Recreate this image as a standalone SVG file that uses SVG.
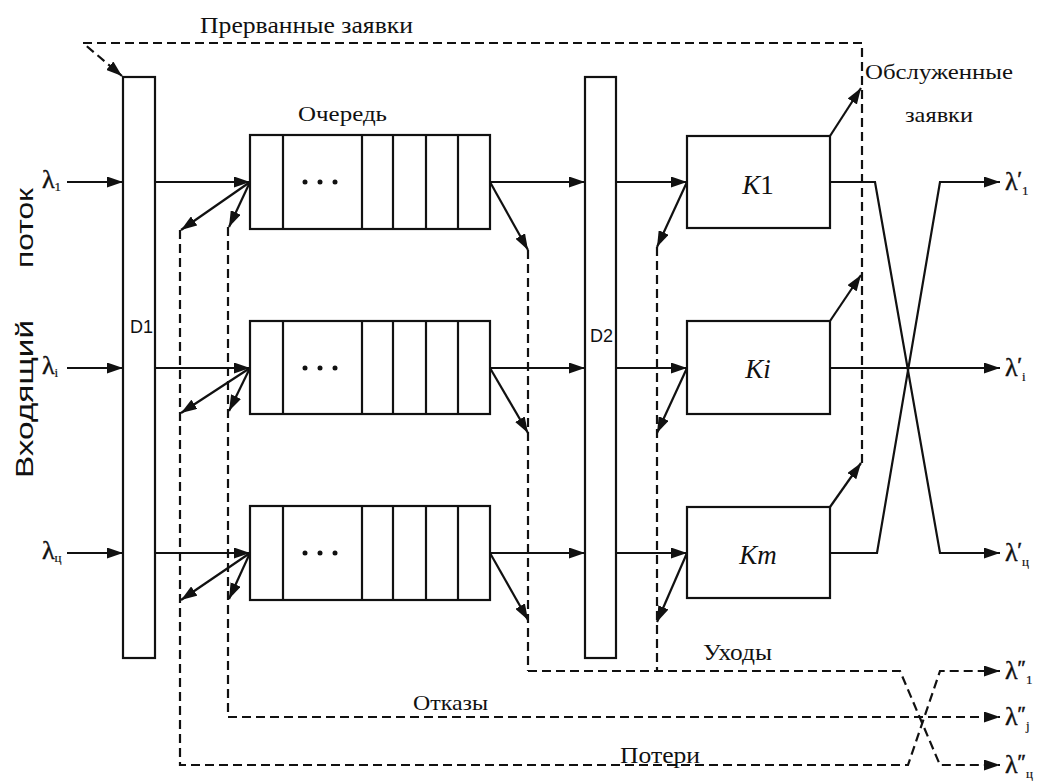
<svg xmlns="http://www.w3.org/2000/svg" width="1043" height="783" viewBox="0 0 1043 783">
<style>
.box{fill:#fff;stroke:#111;stroke-width:2.2}
.div{stroke:#111;stroke-width:2.2}
.ar{fill:none;stroke:#111;stroke-width:2.2;marker-end:url(#ah)}
.dl{fill:none;stroke:#111;stroke-width:2.2;stroke-dasharray:9 5}
.da{fill:none;stroke:#111;stroke-width:2.2;stroke-dasharray:9 5;marker-end:url(#ah)}
.serif{font-family:"Liberation Serif","Times New Roman",serif;fill:#111}
.sans{font-family:"Liberation Sans",Arial,sans-serif;fill:#111}
.lam{font-family:"Liberation Serif","Times New Roman",serif;font-size:26px;fill:#111;stroke:#111;stroke-width:0.4}
.sup{font-size:20px;stroke-width:0.6}
.sub{font-size:13px;stroke-width:0.2}
.k{font-family:"Liberation Serif","Times New Roman",serif;font-size:27px;font-style:italic;fill:#111;text-anchor:middle}
</style>
<defs>
<marker id="ah" markerUnits="userSpaceOnUse" markerWidth="16" markerHeight="11" refX="16" refY="5.5" orient="auto">
<path d="M0,0 L16,5.5 L0,11 z" fill="#111"/>
</marker>
</defs>
<rect width="1043" height="783" fill="#fff"/>

<g id="labels">
<text class="serif" x="200" y="33" font-size="23" textLength="213" lengthAdjust="spacingAndGlyphs">Прерванные  заявки</text>
<text class="serif" x="298" y="121" font-size="21" textLength="89" lengthAdjust="spacingAndGlyphs">Очередь</text>
<text class="serif" x="865" y="79" font-size="22" textLength="148" lengthAdjust="spacingAndGlyphs">Обслуженные</text>
<text class="serif" x="905" y="122" font-size="22" textLength="68" lengthAdjust="spacingAndGlyphs">заявки</text>
<text class="serif" x="703" y="660" font-size="23" textLength="69" lengthAdjust="spacingAndGlyphs">Уходы</text>
<text class="serif" x="413" y="710" font-size="22" textLength="75" lengthAdjust="spacingAndGlyphs">Отказы</text>
<text class="serif" x="620" y="763" font-size="23" textLength="80" lengthAdjust="spacingAndGlyphs">Потери</text>
<text class="sans" font-size="23" transform="translate(33,478) rotate(-90)" textLength="158" lengthAdjust="spacingAndGlyphs">Входящий</text>
<text class="sans" font-size="23" transform="translate(33,268) rotate(-90)" textLength="80" lengthAdjust="spacingAndGlyphs">поток</text>
<text class="lam" x="42" y="188">λ<tspan class="sub" dy="3">1</tspan></text>
<text class="lam" x="42" y="374">λ<tspan class="sub" dy="3">i</tspan></text>
<text class="lam" x="42" y="559">λ<tspan class="sub" dy="3">ц</tspan></text>
<text class="lam" x="1005" y="190">λ<tspan class="sup" dy="-4">′</tspan><tspan class="sub" dy="9">1</tspan></text>
<text class="lam" x="1005" y="376">λ<tspan class="sup" dy="-4">′</tspan><tspan class="sub" dy="9">i</tspan></text>
<text class="lam" x="1005" y="561">λ<tspan class="sup" dy="-4">′</tspan><tspan class="sub" dy="9">ц</tspan></text>
<text class="lam" x="1005" y="679">λ<tspan class="sup" dy="-4">″</tspan><tspan class="sub" dy="9">1</tspan></text>
<text class="lam" x="1005" y="725">λ<tspan class="sup" dy="-4">″</tspan><tspan class="sub" dy="9">j</tspan></text>
<text class="lam" x="1005" y="773">λ<tspan class="sup" dy="-4">″</tspan><tspan class="sub" dy="9">ц</tspan></text>
</g>

<g id="connectors">
<line class="ar" x1="67" y1="182" x2="123" y2="182"/>
<line class="ar" x1="67" y1="368" x2="123" y2="368"/>
<line class="ar" x1="67" y1="553" x2="123" y2="553"/>
<line class="ar" x1="155" y1="182" x2="250" y2="182"/>
<line class="ar" x1="155" y1="368" x2="250" y2="368"/>
<line class="ar" x1="155" y1="553" x2="250" y2="553"/>
<line class="ar" x1="250" y1="182" x2="181" y2="230"/>
<line class="ar" x1="250" y1="182" x2="229" y2="227"/>
<line class="ar" x1="250" y1="368" x2="181" y2="413"/>
<line class="ar" x1="250" y1="368" x2="229" y2="411"/>
<line class="ar" x1="250" y1="553" x2="181" y2="600"/>
<line class="ar" x1="250" y1="553" x2="229" y2="599"/>
<line class="ar" x1="490" y1="182" x2="585" y2="182"/>
<line class="ar" x1="490" y1="368" x2="585" y2="368"/>
<line class="ar" x1="490" y1="553" x2="585" y2="553"/>
<line class="ar" x1="490" y1="182" x2="528" y2="250"/>
<line class="ar" x1="490" y1="368" x2="528" y2="433"/>
<line class="ar" x1="490" y1="553" x2="528" y2="620"/>
<line class="ar" x1="616" y1="182" x2="687" y2="182"/>
<line class="ar" x1="616" y1="368" x2="687" y2="368"/>
<line class="ar" x1="616" y1="553" x2="687" y2="553"/>
<line class="ar" x1="687" y1="182" x2="657" y2="247"/>
<line class="ar" x1="687" y1="368" x2="657" y2="433"/>
<line class="ar" x1="687" y1="553" x2="657" y2="622"/>
<line class="ar" x1="830" y1="136" x2="861" y2="88"/>
<line class="ar" x1="830" y1="321" x2="861" y2="275"/>
<line class="ar" x1="830" y1="507" x2="861" y2="463"/>
<polyline class="ar" points="830,182 875,182 940,553 1000,553"/>
<polyline class="ar" points="830,553 877,553 940,182 1000,182"/>
<line class="ar" x1="830" y1="368" x2="1000" y2="368"/>
<path class="da" d="M862,463 V43 H83 L122,76"/>
<path class="da" d="M180,230 V765 H908 L940,671 H1000"/>
<path class="da" d="M228,227 V717 H1000"/>
<path class="dl" d="M528,250 V671"/>
<path class="dl" d="M657,247 V671"/>
<path class="da" d="M528,671 H900 L940,765 H1000"/>
</g>

<g id="D1">
<rect class="box" x="123" y="77" width="32" height="581"/>
<text class="sans" x="130" y="333" font-size="18">D1</text>
</g>
<g id="D2">
<rect class="box" x="585" y="77" width="31" height="581"/>
<text class="sans" x="590" y="342" font-size="18">D2</text>
</g>

<g id="queue1">
<rect class="box" x="250" y="135" width="240" height="94"/>
<path class="div" d="M283,135V229M362,135V229M393,135V229M426,135V229M458,135V229"/>
<circle cx="305" cy="182" r="2.5" fill="#111"/><circle cx="320" cy="182" r="2.5" fill="#111"/><circle cx="335" cy="182" r="2.5" fill="#111"/>
</g>
<g id="queue2">
<rect class="box" x="250" y="321" width="240" height="93"/>
<path class="div" d="M283,321V414M362,321V414M393,321V414M426,321V414M458,321V414"/>
<circle cx="305" cy="368" r="2.5" fill="#111"/><circle cx="320" cy="368" r="2.5" fill="#111"/><circle cx="335" cy="368" r="2.5" fill="#111"/>
</g>
<g id="queue3">
<rect class="box" x="250" y="506" width="240" height="94"/>
<path class="div" d="M283,506V600M362,506V600M393,506V600M426,506V600M458,506V600"/>
<circle cx="305" cy="553" r="2.5" fill="#111"/><circle cx="320" cy="553" r="2.5" fill="#111"/><circle cx="335" cy="553" r="2.5" fill="#111"/>
</g>

<g id="K1">
<rect class="box" x="687" y="136" width="143" height="92"/>
<text class="k" x="758" y="194">K<tspan font-style="normal">1</tspan></text>
</g>
<g id="Ki">
<rect class="box" x="687" y="321" width="143" height="93"/>
<text class="k" x="758" y="378">Ki</text>
</g>
<g id="Km">
<rect class="box" x="687" y="507" width="143" height="91"/>
<text class="k" x="758" y="564">Km</text>
</g>
</svg>
